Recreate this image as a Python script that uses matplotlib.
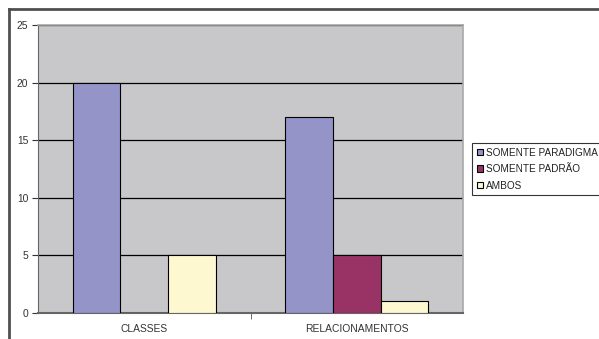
import matplotlib
matplotlib.use('Agg')
import matplotlib.pyplot as plt
import numpy as np
from matplotlib.lines import Line2D

categories = ['CLASSES', 'RELACIONAMENTOS']
series = ['SOMENTE PARADIGMA', 'SOMENTE PADRÃO', 'AMBOS']
paradigma = [20, 17]
padrao = [0, 5]
ambos = [5, 1]
colors = ['#9494c8', '#993366', '#fdf8cf']

plt.rcParams['font.family'] = ['Liberation Sans', 'DejaVu Sans']

W, H = 599, 339
fig = plt.figure(figsize=(W / 100, H / 100), dpi=100)

# outer chart border (top + left only visible)
fig.add_artist(Line2D([9 / W, 9 / W], [0, 1 - 8.5 / H], transform=fig.transFigure,
                      color='#505050', lw=2))
fig.add_artist(Line2D([9 / W, 1], [1 - 8.5 / H, 1 - 8.5 / H], transform=fig.transFigure,
                      color='#505050', lw=2))

ax = fig.add_axes([38 / W, 1 - 313 / H, (463 - 38) / W, (313 - 25) / H])
ax.set_facecolor('#c8c8ca')

x = np.arange(len(categories))
bw = 0.224
vals = [paradigma, padrao, ambos]
handles = []
for i, (name, v, c) in enumerate(zip(series, vals, colors)):
    b = ax.bar(x + (i - 1) * bw, v, bw, color=c, edgecolor='black', linewidth=0.8,
               label=name, zorder=3)
    handles.append(b)

ax.set_xlim(-0.5, 1.5)
ax.set_ylim(0, 25)
ax.set_yticks(range(0, 26, 5))
ax.yaxis.grid(True, color='black', linewidth=0.9, zorder=1)
ax.set_axisbelow(True)

ax.set_xticks(x)
ax.set_xticklabels(categories)
ax.set_xticks([0.5], minor=True)
ax.tick_params(axis='x', which='major', length=0, pad=8, labelsize=7.4, colors='#333333')
ax.tick_params(axis='x', which='minor', length=4, direction='out', color='#555555')
ax.tick_params(axis='y', length=4, direction='out', labelsize=7.4, colors='#333333', pad=3)

for s in ['top', 'right']:
    ax.spines[s].set_color('#a8a8a8')
    ax.spines[s].set_linewidth(1.2)
ax.spines['left'].set_color('#666666')
ax.spines['bottom'].set_color('#666666')
ax.spines['bottom'].set_linewidth(1.5)

leg = fig.legend(handles=handles, labels=series, loc='upper left',
                 bbox_to_anchor=(472 / W, 1 - 143 / H), fontsize=7.2,
                 frameon=True, fancybox=False, handlelength=0.65, handleheight=0.65,
                 handletextpad=0.3, borderpad=0.45, labelspacing=0.65,
                 borderaxespad=0)
leg.get_frame().set_edgecolor('black')
leg.get_frame().set_linewidth(0.8)
for t in leg.get_texts():
    t.set_color('#222222')

fig.savefig('out.png', dpi=100)
